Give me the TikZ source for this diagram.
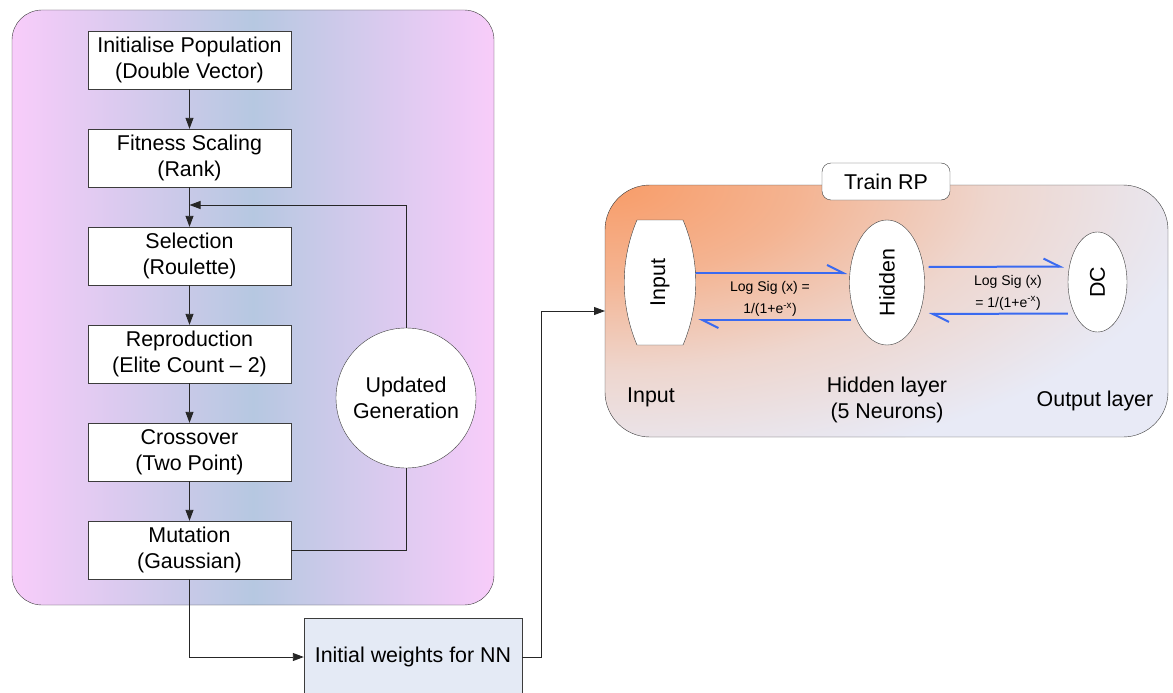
\documentclass[tikz,border=0pt]{standalone}
\usepackage{fontspec}
\setmainfont{Liberation Sans}
\usetikzlibrary{arrows.meta,shapes.geometric,calc}
\definecolor{pinkL}{RGB}{248,204,250}
\definecolor{blueM}{RGB}{182,200,225}
\definecolor{orng}{RGB}{248,156,104}
\definecolor{peach}{RGB}{244,180,146}
\definecolor{lightp}{RGB}{238,214,206}
\definecolor{paleB}{RGB}{232,234,246}
\definecolor{nnfill}{RGB}{228,234,245}
\definecolor{harpblue}{RGB}{58,106,240}
\definecolor{edge}{RGB}{60,60,60}
\pgfdeclareradialshading{rpshade}{\pgfpoint{0bp}{0bp}}{color(0bp)=(orng); color(8bp)=(peach); color(16bp)=(lightp); color(25bp)=(paleB); color(50bp)=(paleB)}
\pgfdeclarelayer{bg}\pgfdeclarelayer{mid}\pgfsetlayers{bg,mid,main}
\begin{document}
\begin{tikzpicture}[x=1pt,y=-1pt, font=\fontsize{21.4}{26}\selectfont,
  box/.style={draw=edge, fill=white, minimum width=203pt, minimum height=58pt, inner sep=0pt, align=center},
  arr/.style={draw=black!85, line width=0.9pt, -{Triangle[length=11pt,width=8pt]}},
  ln/.style={draw=black!85, line width=0.9pt},
  harp/.style={draw=harpblue, line width=2pt, -{Straight Barb[harpoon,length=16pt,width=16pt]}},
  small/.style={font=\fontsize{14}{22}\selectfont, align=center}]
\useasboundingbox (0,0) rectangle (1173,693);

\begin{pgfonlayer}{bg}
\shade[left color=pinkL, right color=pinkL, middle color=blueM, draw=edge, rounded corners=30pt] (12,10) rectangle (494,605);
\begin{scope}
\clip[rounded corners=45pt] (605,185) rectangle (1168,437);
\fill[paleB] (605,185) rectangle (1168,437);
\shade[shading=rpshade] (608,185) ellipse [x radius=600, y radius=290];
\end{scope}
\draw[edge, rounded corners=45pt] (605,185) rectangle (1168,437);
\end{pgfonlayer}

% GA flow
\node[box] (init) at (189.5,60) {Initialise Population\\(Double Vector)};
\node[box] (fit) at (189.5,158) {Fitness Scaling\\(Rank)};
\node[box] (sel) at (189.5,256) {Selection\\(Roulette)};
\node[box] (rep) at (189.5,354) {Reproduction\\(Elite Count -- 2)};
\node[box] (cro) at (189.5,452) {Crossover\\(Two Point)};
\node[box] (mut) at (189.5,550) {Mutation\\(Gaussian)};
\node[circle, draw=edge, fill=white, minimum size=140pt, inner sep=0pt, align=center] (gen) at (406,398) {Updated\\Generation};
\coordinate (join) at (189.5,205);
\node[draw=edge, fill=nnfill, minimum width=218pt, minimum height=78pt, inner sep=0pt] (nn) at (413,657) {Initial weights for NN};
\coordinate (rpin) at (605,311);

% NN part
\node[draw=edge, fill=white, rounded corners=9pt, minimum width=128pt, minimum height=37pt, inner sep=0pt] (trp) at (886,181.5) {Train RP};
\draw[edge, fill=white] (637,220) -- (683,220) .. controls (700,260) and (700,305) .. (683,345) -- (637,345) .. controls (620,305) and (620,260) .. (637,220) -- cycle;
\node[minimum width=70pt, minimum height=125pt, inner sep=0pt] (in) at (660,282.5) {\rotatebox{90}{Input}};
\node[ellipse, draw=edge, fill=white, minimum width=75pt, minimum height=125pt, inner sep=0pt] (hid) at (887,282.5) {\rotatebox{90}{Hidden}};
\node[ellipse, draw=edge, fill=white, minimum width=59pt, minimum height=100pt, inner sep=0pt] (dc) at (1097.5,282) {\rotatebox{90}{DC}};

\begin{pgfonlayer}{mid}
\draw[harp] ([yshift=9.5pt]in.east) -- ([yshift=9.5pt,xshift=-2pt]hid.west);
\draw[harp] ([yshift=-37.5pt,xshift=2pt]hid.west) -- ([yshift=-37.5pt,xshift=3pt]in.east);
\draw[harp] ([yshift=15.5pt,xshift=4pt]hid.east) -- ([yshift=15.5pt,xshift=-4pt]dc.west);
\draw[harp] ([yshift=-31.5pt]dc.west) -- ([yshift=-31.5pt,xshift=4pt]hid.east);
\end{pgfonlayer}

\node[small] (l1) at (770,299) {Log Sig (x) =\\1/(1+e\textsuperscript{-x})};
\node[small] (l2) at (1008,292.5) {Log Sig (x)\\= 1/(1+e\textsuperscript{-x})};
\node (lin) at (651,397) {Input};
\node[align=center] (lhid) at (887,399.5) {Hidden layer\\(5 Neurons)};
\node (lout) at (1095,401) {Output layer};

% connectors
\draw[arr] (init) -- (fit);
\draw[arr] (fit) -- (sel);
\draw[arr] (sel) -- (rep);
\draw[arr] (rep) -- (cro);
\draw[arr] (cro) -- (mut);
\draw[ln] (mut.east) -| (gen.south);
\draw[arr] (gen.north) |- (join);
\draw[arr] (mut.south) |- (nn.west);
\draw[arr] (nn.east) -- ++(19,0) |- (rpin);
\end{tikzpicture}
\end{document}
